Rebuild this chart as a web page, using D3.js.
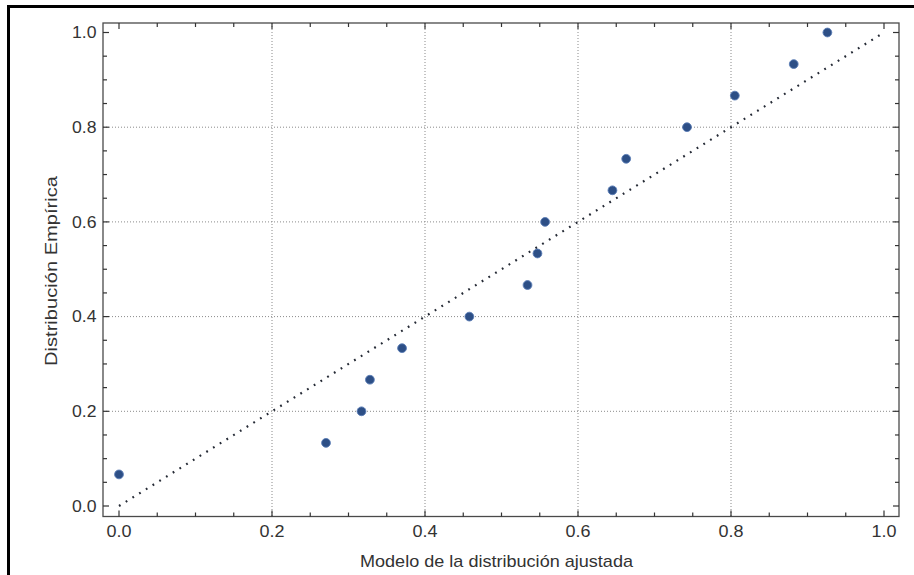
<!DOCTYPE html>
<html><head><meta charset="utf-8">
<script src="https://cdn.jsdelivr.net/npm/d3@7"></script>
<style>body{margin:0;background:#fff;}svg{display:block;}</style>
</head><body>
<script>
const modelo = [0.0, 0.2706, 0.317, 0.328, 0.370, 0.458, 0.534, 0.547, 0.557, 0.645, 0.663, 0.7425, 0.805, 0.882, 0.926];
const empirica = [0.0667, 0.1333, 0.2, 0.2667, 0.3333, 0.4, 0.4667, 0.5333, 0.6, 0.6667, 0.7333, 0.8, 0.8667, 0.9333, 1.0];
const majorTicks = [0, 0.2, 0.4, 0.6, 0.8, 1.0];
const gridTicks = [0.2, 0.4, 0.6, 0.8];
const minorTicks = d3.range(0, 21).map(i => i / 20);
const xTitle = "Modelo de la distribución ajustada";
const yTitle = "Distribución Empírica";

const W = 914, H = 575;
const svg = d3.select("body").append("svg").attr("width", W).attr("height", H);
svg.append("rect").attr("width", W).attr("height", H).attr("fill", "#fff");
// outer border (top + left only visible)
svg.append("line").attr("x1", 7).attr("x2", W).attr("y1", 6.5).attr("y2", 6.5).attr("stroke", "#000").attr("stroke-width", 3);
svg.append("line").attr("x1", 8.5).attr("x2", 8.5).attr("y1", 5).attr("y2", H).attr("stroke", "#000").attr("stroke-width", 3);

const fL = 103, fR = 899, fT = 23, fB = 516.5;
const x = d3.scaleLinear().domain([0, 1]).range([119, 884]);
const y = d3.scaleLinear().domain([0, 1]).range([506, 32.5]);

const g = svg.append("g");
// grid
g.selectAll(".vg").data(gridTicks).join("line")
  .attr("x1", d => x(d)).attr("x2", d => x(d)).attr("y1", fT).attr("y2", fB)
  .attr("stroke", "#8a8a8a").attr("stroke-width", 1).attr("stroke-dasharray", "1,2");
g.selectAll(".hg").data(gridTicks).join("line")
  .attr("x1", fL).attr("x2", fR).attr("y1", d => y(d)).attr("y2", d => y(d))
  .attr("stroke", "#8a8a8a").attr("stroke-width", 1).attr("stroke-dasharray", "1,2");

// diagonal reference
g.append("line").attr("x1", x(0)).attr("y1", y(0)).attr("x2", x(1)).attr("y2", y(1))
  .attr("stroke", "#252a35").attr("stroke-width", 2.2).attr("stroke-dasharray", "1.8,6.1");

// frame
g.append("rect").attr("x", fL).attr("y", fT).attr("width", fR - fL).attr("height", fB - fT)
  .attr("fill", "none").attr("stroke", "#4a4a4a").attr("stroke-width", 1.3);

const isMajor = d => Math.abs(d * 5 - Math.round(d * 5)) < 1e-6;
const tl = d => isMajor(d) ? 6 : 4;
g.selectAll(".tb").data(minorTicks).join("line")
  .attr("x1", d => x(d)).attr("x2", d => x(d)).attr("y1", fB).attr("y2", d => fB - tl(d))
  .attr("stroke", "#333").attr("stroke-width", 1.2);
g.selectAll(".tt").data(minorTicks).join("line")
  .attr("x1", d => x(d)).attr("x2", d => x(d)).attr("y1", fT).attr("y2", d => fT + tl(d))
  .attr("stroke", "#333").attr("stroke-width", 1.2);
g.selectAll(".tl").data(minorTicks).join("line")
  .attr("y1", d => y(d)).attr("y2", d => y(d)).attr("x1", fL).attr("x2", d => fL + tl(d))
  .attr("stroke", "#333").attr("stroke-width", 1.2);
g.selectAll(".tr").data(minorTicks).join("line")
  .attr("y1", d => y(d)).attr("y2", d => y(d)).attr("x1", fR).attr("x2", d => fR - tl(d))
  .attr("stroke", "#333").attr("stroke-width", 1.2);

const font = "'Liberation Sans', Arial, sans-serif";
g.selectAll(".xl").data(majorTicks).join("text")
  .attr("x", d => x(d) - 12.5).attr("y", 536.7)
  .attr("font-family", font).attr("font-size", 16.3).attr("fill", "#333")
  .attr("textLength", 25).attr("lengthAdjust", "spacingAndGlyphs")
  .text(d => d3.format(".1f")(d));
g.selectAll(".yl").data(majorTicks).join("text")
  .attr("x", 72).attr("y", d => y(d)).attr("dy", "0.36em")
  .attr("font-family", font).attr("font-size", 16.3).attr("fill", "#333")
  .attr("textLength", 24.5).attr("lengthAdjust", "spacingAndGlyphs")
  .text(d => d3.format(".1f")(d));

svg.append("text").attr("x", 360).attr("y", 566.5)
  .attr("font-family", font).attr("font-size", 17).attr("fill", "#333")
  .attr("textLength", 273).attr("lengthAdjust", "spacingAndGlyphs").text(xTitle);
svg.append("text").attr("transform", `translate(57,${271 + 95}) rotate(-90)`)
  .attr("font-family", font).attr("font-size", 17).attr("fill", "#333")
  .attr("textLength", 190).attr("lengthAdjust", "spacingAndGlyphs").text(yTitle);

// points
g.selectAll(".pt").data(modelo.map((m, i) => [m, empirica[i]])).join("circle")
  .attr("cx", d => x(d[0])).attr("cy", d => y(d[1])).attr("r", 4.4)
  .attr("fill", "#2d4f86").attr("stroke", "#5a7db5").attr("stroke-width", 0.9);
</script>
</body></html>
